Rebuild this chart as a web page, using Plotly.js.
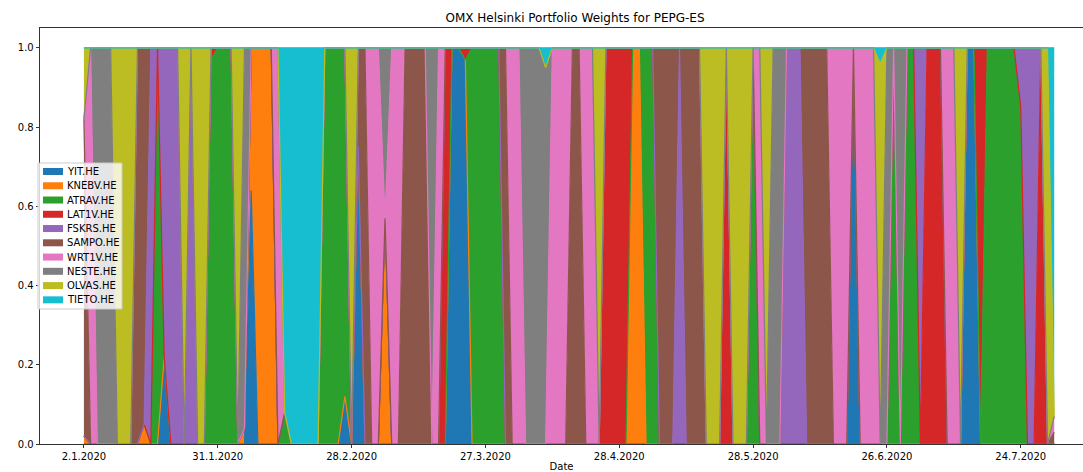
<!DOCTYPE html>
<html>
<head>
<meta charset="utf-8">
<script src="https://cdn.plot.ly/plotly-3.0.1.min.js"></script>
<style>html,body{margin:0;padding:0;background:#fff;}#chart{width:1083px;height:472px;}</style>
</head>
<body>
<div id="chart"></div>
<script>
// Portfolio weights per trading day (index 0 = 2.1.2020)
const YIT = [
0,0,0,0,0,0,0,0,0,0,
0,0,0.22,0,0,0,0,0,0,0,
0,0,0,0,0,0.64,0,0,0,0,
0,0,0,0,0,0,0,0,0,0.12,
0,0.75,0,0,0,0,0,0,0,0,
0,0,0,0,0,1,1,0.97,0,0,
0,0,0,0,0,0,0,0,0,0,
0,0,0,0,0,0,0,0,0,0,
0,0,0,0,0,0,0,0,0,0,
0,0,0,0,0,0,0,0,0,0,
0,0,0,0,0,0,0,0,0,0,
0,0,0,0,0,1,0,0,0,0,
0,0,0,0,0,0,0,0,0,0,
0,0,1,1,0,0,0,0,0,0,
0,0,0,0,0,0];
const KNEBV = [
0.02,0,0,0,0,0,0,0,0,0.05,
0,0,0,0,0,0,0,0,0,0,
0,0,0,0,0.04,0.36,1,1,1,0,
0,0,0,0,0,0,0,0,0,0,
0,0,0,0,0,0.57,0,0,0,0,
0,0,0,0,0,0,0,0,0,0,
0,0,0,0,0,0,0,0,0,0,
0,0,0,0,0,0,0,0,0,0,
0,0,1,1,0,0,0,0,0,0,
0,0,0,0,0,0,0,0,0,0,
0,0,0,0,0,0,0,0,0,0,
0,0,0,0,0,0,0,0,0,0,
0,0,0,0,0,0,0,0,0,0,
0,0,0,0,0,0,0,0,0,0,
0,0,0,0,0,0];
const ATRAV = [
0,0,0,0,0,0,0,0,0,0,
0,1,0,0,0,0,0,0,0,0.97,
1,1,1,0,0,0,0,0,0,0,
0.08,0,0,0,0,0,1,1,1,0.88,
0,0,0,0,0,0,0,0,0,0,
0,0,0,0,0,0,0,0,1,1,
1,1,1,0,0,0,0,0,0,0,
0,0,0,0,0,0,0,0,0,0,
0,0,0,0,1,1,0,0,0,0,
0,0,0,0,0,0,0,0,0,0,
1,0,0,0,0,0,0,0,0,0,
0,0,0,0,0,0,0,0,0,0,
0,1,0,1,1,0,0,0,0,0,
0,0,0,0,0,1,1,1,1,1,
0.85,0,0,0,0,0];
const LAT1V = [
0,0,0,0,0,0,0,0,0,0,
0,0,0,0,0,0,0,0,0,0.03,
0,0,0,0,0,0,0,0,0,0,
0,0,0,0,0,0,0,0,0,0,
0,0,0,0,0,0,0,0,0,0,
0,0,0,0,1,0,0,0.03,0,0,
0,0,0,0,0,0,0,0,0,0,
0,0,0,0,0,0,0,0,1,1,
1,1,0,0,0,0,0,0,0,0,
0,0,0,0,0,0,1,0,0,0,
0,0,0,0,0,0,0,0,0,0,
0,0,0,0,0,0,0,0,0,0,
0,0,0,0,0,0,1,1,1,0,
0,0,0,0,1,0,0,0,0,0,
0,0,0,1,0,0];
const FSKRS = [
0,0,0,0,0,0,0,0,0,0,
1,0,0.78,1,1,0,1,0,0,0,
0,0,0,0,0,0,0,0,0,0,
0,0,0,0,0,0,0,0,0,0,
0,0,0,0,0,0,0,0,0,0,
0,0,0,0,0,0,0,0,0,0,
0,0,0,0,0,0,0,0,0,0,
0,0,0,0,0,0,0,0,0,0,
0,0,0,0,0,0,0,0,0,1,
0,0,0,0,0,0,0,0,0,0,
0,0,0,0,0,1,1,1,0,0,
0,0,0,0,0,0,0,0,0,0,
0,0,0,0,0,1,0,0,0,0,
0,0,0,0,0,0,0,0,0,0,
0.15,1,1,0,0,0];
const SAMPO = [
0.8,0,0,0,0,0,0,0,1,0.95,
0,0,0,0,0,0,0,0,0,0,
0,0,0,0,0,0,0,0,0,0,
0,0,0,0,0,0,0,0,0,0,
0,0.25,1,0,0,0,0,0,1,1,
1,1,0,0,0,0,0,0,0,0,
0,0,0,1,0,0,0,0,0,0,
0,0,0,1,1,0,0,0,0,0,
0,0,0,0,0,0,1,1,1,0,
1,1,1,0,0,0,0,0,0,0,
0,0,0,0,0,0,0,0,1,1,
1,1,0,0,0,0,0,0,0,0,
0,0,0,0,0,0,0,0,0,0,
0,0,0,0,0,0,0,0,0,0,
0,0,0,0,0,0.03];
const WRT1V = [
0,1,0,0,0,0,0,0,0,0,
0,0,0,0,0,0,0,0,0,0,
0,0,0,0,0,0,0,0,0,1,
0,0,0,0,0,0,0,0,0,0,
0,0,0,1,1,0,1,1,0,0,
0,0,0,1,0,0,0,0,0,0,
0,0,0,0,1,1,0,0,0,0,
1,1,1,0,0,1,1,0,0,0,
0,0,0,0,0,0,0,0,0,0,
0,0,0,0,0,0,0,0,0,0,
0,1,0,0,0,0,0,0,0,0,
0,0,1,1,1,0,1,1,1,0,
0,0,0,0,0,0,0,0,0,1,
1,0,0,0,0,0,0,0,0,0,
0,0,0,0,0,0.04];
const NESTE = [
0,0,1,1,1,0,0,0,0,0,
0,0,0,0,0,0,0,0,0,0,
0,0,0,0,0.96,0,0,0,0,0,
0,0,0,0,0,0,0,0,0,0,
0,0,0,0,0,0.43,0,0,0,0,
0,0,1,0,0,0,0,0,0,0,
0,0,0,0,0,0,1,1,1,0.95,
0,0,0,0,0,0,0,0,0,0,
0,0,0,0,0,0,0,0,0,0,
0,0,0,0,0,0,0,0,0,0,
0,0,0,1,1,0,0,0,0,0,
0,0,0,0,0,0,0,0,0,0,
1,0,1,0,0,0,0,0,0,0,
0,0,0,0,0,0,0,0,0,0,
0,0,0,0,0,0];
const OLVAS = [
0.18,0,0,0,0,1,1,1,0,0,
0,0,0,0,0,1,0,1,1,0,
0,0,0,1,0,0,0,0,0,0,
0,0,0,0,0,0,0,0,0,0,
1,0,0,0,0,0,0,0,0,0,
0,0,0,0,0,0,0,0,0,0,
0,0,0,0,0,0,0,0,0,0,
0,0,0,0,0,0,0,1,0,0,
0,0,0,0,0,0,0,0,0,0,
0,0,0,1,1,1,0,1,1,1,
0,0,1,0,0,0,0,0,0,0,
0,0,0,0,0,0,0,0,0,0.96,
0,0,0,0,0,0,0,0,0,0,
0,1,0,0,0,0,0,0,0,0,
0,0,0,0,1,0];
const TIETO = [
0,0,0,0,0,0,0,0,0,0,
0,0,0,0,0,0,0,0,0,0,
0,0,0,0,0,0,0,0,0,0,
0.92,1,1,1,1,1,0,0,0,0,
0,0,0,0,0,0,0,0,0,0,
0,0,0,0,0,0,0,0,0,0,
0,0,0,0,0,0,0,0,0,0.05,
0,0,0,0,0,0,0,0,0,0,
0,0,0,0,0,0,0,0,0,0,
0,0,0,0,0,0,0,0,0,0,
0,0,0,0,0,0,0,0,0,0,
0,0,0,0,0,0,0,0,0,0.04,
0,0,0,0,0,0,0,0,0,0,
0,0,0,0,0,0,0,0,0,0,
0,0,0,0,0,0.93];

const tickers = ['YIT.HE','KNEBV.HE','ATRAV.HE','LAT1V.HE','FSKRS.HE','SAMPO.HE','WRT1V.HE','NESTE.HE','OLVAS.HE','TIETO.HE'];
const weights = [YIT, KNEBV, ATRAV, LAT1V, FSKRS, SAMPO, WRT1V, NESTE, OLVAS, TIETO];
const colors = ['#1f77b4','#ff7f0e','#2ca02c','#d62728','#9467bd','#8c564b','#e377c2','#7f7f7f','#bcbd22','#17becf'];
const tickIdx = [0,20,40,60,80,100,120,140];
const tickLabels = ['2.1.2020','31.1.2020','28.2.2020','27.3.2020','28.4.2020','28.5.2020','26.6.2020','24.7.2020'];
const yTicks = [0,0.2,0.4,0.6,0.8,1.0];
const yLabels = ['0.0','0.2','0.4','0.6','0.8','1.0'];

const N = YIT.length;
weights.forEach((w,k)=>{ if (w.length!==N) throw new Error(tickers[k]+' length '+w.length); });
const dayIndex = YIT.map((_,i)=>i);

const FONT = 'DejaVu Sans, Liberation Sans, sans-serif';
const traces = weights.map((w,k)=>({
  type:'scatter', mode:'lines', x:dayIndex, y:w, name:tickers[k],
  stackgroup:'one', line:{color:colors[k], width:1.2, shape:'linear'},
  fillcolor:colors[k], showlegend:false, hoverinfo:'skip'
}));

// plot area: x 40..1083 px, y 28..444 px
const W = 1083, H = 472, ML = 40, MT = 28, MB = 28;
const PW = W - ML, PH = H - MT - MB;
const px = v => (v - ML) / PW;
const py = v => (H - MB - v) / PH;

const shapes = [{type:'rect', xref:'paper', yref:'paper', x0:px(38), x1:px(122), y0:py(309), y1:py(163),
  fillcolor:'rgba(255,255,255,0.8)', line:{color:'#cccccc', width:1}, layer:'above'}];
const annotations = [];
tickers.forEach((t,k)=>{
  const cy = 171.5 + k*14.26;
  shapes.push({type:'rect', xref:'paper', yref:'paper', x0:px(43), x1:px(63), y0:py(cy+3.5), y1:py(cy-3.5),
    fillcolor:colors[k], line:{width:0}, layer:'above'});
  annotations.push({xref:'paper', yref:'paper', x:px(66), y:py(cy), text:t, showarrow:false,
    xanchor:'left', yanchor:'middle', borderpad:0, font:{family:FONT, size:10, color:'#000'}});
});

const layout = {
  width:W, height:H, margin:{l:ML, r:0, t:MT, b:MB, pad:0},
  paper_bgcolor:'#fff', plot_bgcolor:'#fff', showlegend:false,
  font:{family:FONT, size:10, color:'#000'},
  title:{text:'OMX Helsinki Portfolio Weights for PEPG-ES', font:{family:FONT, size:12, color:'#000'},
    xref:'container', yref:'container', x:575/W, xanchor:'center', y:1-18/H, yanchor:'middle'},
  xaxis:{range:[-6.56, 149.3], tickvals:tickIdx, ticktext:tickLabels, ticks:'outside', ticklen:3.5,
    tickwidth:0.8, tickcolor:'#000', showline:true, linecolor:'#000', linewidth:0.8, mirror:true,
    showgrid:false, zeroline:false, tickfont:{family:FONT, size:10, color:'#000'},
    title:{text:'Date', font:{family:FONT, size:10, color:'#000'}, standoff:3}},
  yaxis:{range:[0,1.05], tickvals:yTicks, ticktext:yLabels, ticks:'outside', ticklen:3.5,
    tickwidth:0.8, tickcolor:'#000', showline:true, linecolor:'#000', linewidth:0.8,
    showgrid:false, zeroline:false, tickfont:{family:FONT, size:10, color:'#000'}},
  shapes:shapes, annotations:annotations
};
Plotly.newPlot('chart', traces, layout, {staticPlot:true, displayModeBar:false});
</script>
</body>
</html>
